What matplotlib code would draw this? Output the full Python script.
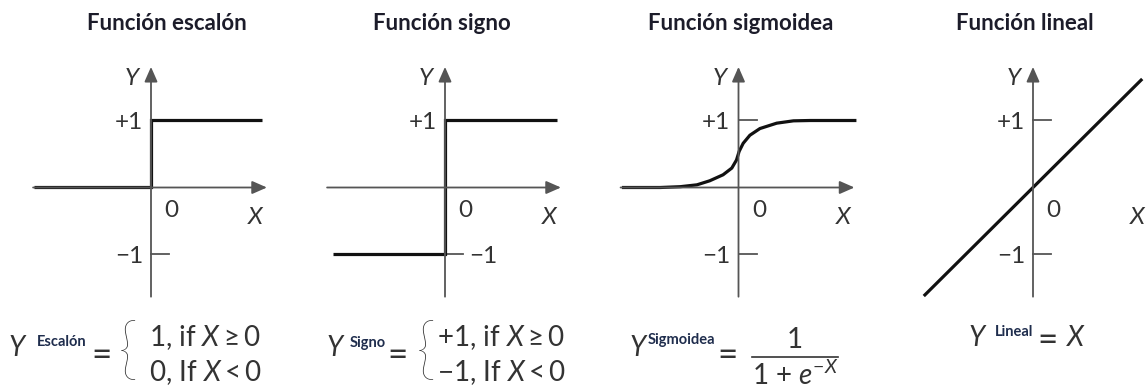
import matplotlib
matplotlib.use("Agg")
import matplotlib.pyplot as plt

plt.rcParams['font.family'] = ['Lato', 'DejaVu Sans']
plt.rcParams['mathtext.fontset'] = 'custom'
plt.rcParams['mathtext.rm'] = 'Lato'
plt.rcParams['mathtext.it'] = 'Lato:italic'
plt.rcParams['mathtext.bf'] = 'Lato:bold'

W, H = 1146, 390
U = 67.0  # pixels per unit on both axes

# panel data (function units)
titles = ['Función escalón', 'Función signo', 'Función sigmoidea', 'Función lineal']
origins_px = [151, 445, 738.5, 1033]   # y-axis position of each panel
origin_y_px = 187.5

step_x = [-1.75, 0, 0, 1.66]
step_y = [0, 0, 1, 1]

sign_x = [-1.67, 0, 0, 1.67]
sign_y = [-1, -1, 1, 1]

sig_x = [-1.74, -1.17, -0.87, -0.62, -0.43, -0.23, -0.10, -0.03, 0.01,
         0.07, 0.17, 0.32, 0.57, 0.82, 1.07, 1.76]
sig_y = [0.0, 0.0, 0.012, 0.04, 0.10, 0.19, 0.29, 0.41, 0.54,
         0.66, 0.78, 0.88, 0.96, 0.995, 1.0, 1.0]

lin_x = [-1.63, 1.63]
lin_y = [-1.62, 1.62]

curves = [(step_x, step_y), (sign_x, sign_y), (sig_x, sig_y), (lin_x, lin_y)]

AX_COL = '#555555'
TXT_COL = '#333333'
LAB_FS = 17.5

fig = plt.figure(figsize=(W / 100, H / 100), dpi=100)


def px(x, y):
    return (x / W, 1 - y / H)


for i, (ox, (cx, cy)) in enumerate(zip(origins_px, curves)):
    ax = fig.add_axes([0, 0, 1, 1])
    ax.set_xlim(-ox / U, (W - ox) / U)
    ax.set_ylim(-(H - origin_y_px) / U, origin_y_px / U)
    ax.axis('off')
    ax.patch.set_alpha(0)

    # axes with arrows
    ax.annotate('', xy=(1.73, 0), xytext=(-1.76, 0),
                arrowprops=dict(arrowstyle='-|>,head_length=0.5,head_width=0.22',
                                color=AX_COL, lw=1.3,
                                mutation_scale=18, shrinkA=0, shrinkB=0))
    ax.annotate('', xy=(0, 1.80), xytext=(0, -1.63),
                arrowprops=dict(arrowstyle='-|>,head_length=0.5,head_width=0.22',
                                color=AX_COL, lw=1.3,
                                mutation_scale=18, shrinkA=0, shrinkB=0))
    # ticks at +1 / -1
    for t in (1, -1):
        ax.plot([0, 0.27], [t, t], color=AX_COL, lw=1.3)

    # function
    ax.plot(cx, cy, color='#111111', lw=2.3, solid_capstyle='butt',
            solid_joinstyle='miter')

    # labels
    ax.text(-0.28, 1.63, 'Y', style='italic', fontsize=LAB_FS, color=TXT_COL,
            ha='center', va='center')
    ax.text(-0.12, 0.97, '+1', fontsize=LAB_FS, color=TXT_COL, ha='right', va='center')
    if i == 1:
        ax.text(0.36, -1.03, '\u22121', fontsize=LAB_FS, color=TXT_COL, ha='left', va='center')
    else:
        ax.text(-0.12, -1.03, '\u22121', fontsize=LAB_FS, color=TXT_COL, ha='right', va='center')
    ax.text(0.31, -0.34, '0', fontsize=LAB_FS, color=TXT_COL, ha='center', va='center')
    ax.text(1.56, -0.45, 'X', style='italic', fontsize=LAB_FS, color=TXT_COL,
            ha='center', va='center')

# titles
title_x = [167, 442, 741, 1025]
for t, x in zip(titles, title_x):
    fig.text(*px(x, 24), t, fontsize=16, fontweight='bold', color='#1c1c2a',
             ha='center', va='center')

EQ_FS = 20
EQ_SIGN_FS = 25
SUP_FS = 10.5
SUP_COL = '#1f2d4d'
BR_FS = 50

# equation 1: step
fig.text(*px(17, 348), 'Y', style='italic', fontsize=EQ_FS, color=TXT_COL, ha='center', va='center')
fig.text(*px(62, 342), 'Escalón', fontsize=SUP_FS, fontweight='bold', color=SUP_COL, ha='center', va='center')
fig.text(*px(101, 356), '=', fontsize=EQ_SIGN_FS, color=TXT_COL, ha='center', va='center')
fig.text(*px(128, 354), '{', fontsize=BR_FS, fontweight='light', color=TXT_COL, ha='center', va='center')
fig.text(*px(149, 338), r'1, if $X \geq 0$', fontsize=EQ_FS, color=TXT_COL, ha='left', va='center')
fig.text(*px(149, 373), r'0, If $X < 0$', fontsize=EQ_FS, color=TXT_COL, ha='left', va='center')

# equation 2: sign
fig.text(*px(335, 348), 'Y', style='italic', fontsize=EQ_FS, color=TXT_COL, ha='center', va='center')
fig.text(*px(368, 343), 'Signo', fontsize=SUP_FS, fontweight='bold', color=SUP_COL, ha='center', va='center')
fig.text(*px(397, 356), '=', fontsize=EQ_SIGN_FS, color=TXT_COL, ha='center', va='center')
fig.text(*px(426, 354), '{', fontsize=BR_FS, fontweight='light', color=TXT_COL, ha='center', va='center')
fig.text(*px(437, 338), r'+1, if $X \geq 0$', fontsize=EQ_FS, color=TXT_COL, ha='left', va='center')
fig.text(*px(437, 373), '\u22121' + r', If $X < 0$', fontsize=EQ_FS, color=TXT_COL, ha='left', va='center')

# equation 3: sigmoid
fig.text(*px(638, 348), 'Y', style='italic', fontsize=EQ_FS, color=TXT_COL, ha='center', va='center')
fig.text(*px(681, 340), 'Sigmoidea', fontsize=SUP_FS, fontweight='bold', color=SUP_COL, ha='center', va='center')
fig.text(*px(727, 356), '=', fontsize=EQ_SIGN_FS, color=TXT_COL, ha='center', va='center')
fig.text(*px(795, 340), '1', fontsize=EQ_FS, color=TXT_COL, ha='center', va='center')
fig.add_artist(plt.Line2D([752 / W, 838 / W], [1 - 357 / H, 1 - 357 / H], color=TXT_COL, lw=1.2))
fig.text(*px(795, 375), r'1 + $e^{-X}$', fontsize=EQ_FS, color=TXT_COL, ha='center', va='center')

# equation 4: linear
fig.text(*px(977, 338), 'Y', style='italic', fontsize=EQ_FS, color=TXT_COL, ha='center', va='center')
fig.text(*px(1014, 332), 'Lineal', fontsize=SUP_FS, fontweight='bold', color=SUP_COL, ha='center', va='center')
fig.text(*px(1048, 341), '=', fontsize=EQ_SIGN_FS, color=TXT_COL, ha='center', va='center')
fig.text(*px(1075, 338), 'X', style='italic', fontsize=EQ_FS, color=TXT_COL, ha='center', va='center')

fig.savefig('out.png', dpi=100)
